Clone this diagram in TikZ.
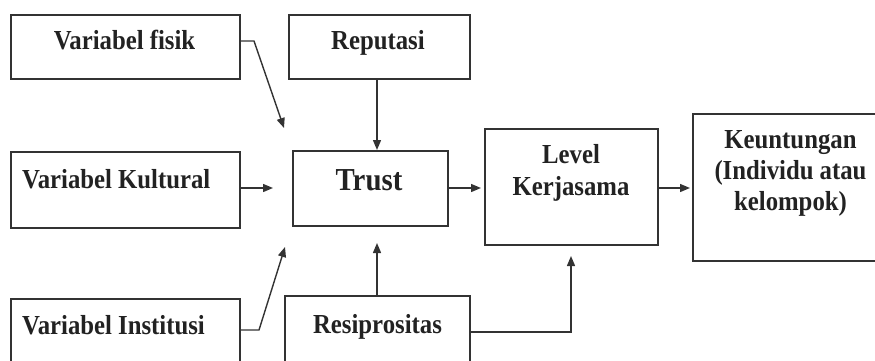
\documentclass[tikz,border=0pt]{standalone}
\usepackage{fontspec}
\setmainfont[FakeStretch=0.9]{Liberation Serif}
\usetikzlibrary{arrows.meta}
\definecolor{ln}{HTML}{333333}
\definecolor{tx}{HTML}{222222}
\tikzset{
  boxst/.style={draw=ln, line width=1.8pt, inner sep=0pt, anchor=north west},
  lbl/.style={inner sep=0pt, text=tx, font=\fontsize{27.5}{31}\selectfont\bfseries},
  conn/.style={draw=ln, line width=1.4pt, -{Triangle[length=10pt,width=8pt]}},
}
\begin{document}
\begin{tikzpicture}[x=1pt,y=-1pt]
\useasboundingbox (0,0) rectangle (875,361);
\clip (0,0) rectangle (875,361);
% boxes
\node[boxst, minimum width=229pt, minimum height=64pt] (fisik) at (10,14) {};
\node[boxst, minimum width=181pt, minimum height=64pt] (rep) at (288,14) {};
\node[boxst, minimum width=155pt, minimum height=75pt] (trust) at (292,150) {};
\node[boxst, minimum width=229pt, minimum height=76pt] (kult) at (10,151) {};
\node[boxst, minimum width=229pt, minimum height=70pt] (inst) at (10,298) {};
\node[boxst, minimum width=185pt, minimum height=72pt] (resip) at (284,295) {};
\node[boxst, minimum width=173pt, minimum height=116pt] (level) at (484,128) {};
\node[boxst, minimum width=200pt, minimum height=147pt] (keun) at (692,113) {};
% texts
\node[lbl, anchor=base] (tfisik) at (124.5,50) {Variabel fisik};
\node[lbl, anchor=base] (trep) at (378,50) {Reputasi};
\node[lbl, anchor=base, font=\fontsize{32}{36}\selectfont\bfseries] (ttrust) at (369,190) {Trust};
\node[lbl, anchor=base west] (tkult) at (22,188) {Variabel Kultural};
\node[lbl, anchor=base west] (tinst) at (22,334) {Variabel Institusi};
\node[lbl, anchor=base] (tresip) at (377.5,333) {Resiprositas};
\node[lbl, anchor=base] (tlev1) at (571,163) {Level};
\node[lbl, anchor=base] (tlev2) at (571,195) {Kerjasama};
\node[lbl, anchor=base] (tk1) at (790.5,148) {Keuntungan};
\node[lbl, anchor=base] (tk2) at (790.5,179) {(Individu atau};
\node[lbl, anchor=base] (tk3) at (790.5,210) {kelompok)};
% free ends
\coordinate (c1) at (254,41);
\coordinate (e1) at (284,128);
\coordinate (e2) at (273,188);
\coordinate (c3) at (259,330);
\coordinate (e3) at (285,247);
\coordinate (e4) at (377,243);
\coordinate (c5) at (571,332);
\coordinate (e5) at (571,256);
\coordinate (e6) at (481,188);
\coordinate (e7) at (690,188);
% connectors
\draw[conn] (fisik.east |- c1) -- (c1) -- (e1);
\draw[conn] (rep.south -| e4) -- (trust.north -| e4);
\draw[conn] (kult.east |- e2) -- (e2);
\draw[conn] (inst.east |- c3) -- (c3) -- (e3);
\draw[conn] (resip.north -| e4) -- (e4);
\draw[conn] (resip.east |- c5) -- (c5) -- (e5);
\draw[conn] (trust.east |- e6) -- (e6);
\draw[conn] (level.east |- e7) -- (e7);
\end{tikzpicture}
\end{document}
